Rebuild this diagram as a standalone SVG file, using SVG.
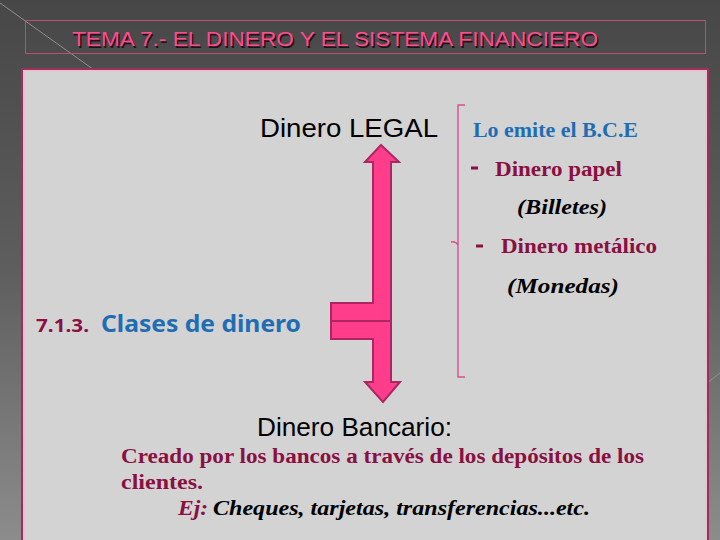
<svg xmlns="http://www.w3.org/2000/svg" width="720" height="540" viewBox="0 0 720 540">
  <defs>
    <linearGradient id="bg" x1="0" y1="0" x2="0" y2="1">
      <stop offset="0" stop-color="#474747"/>
      <stop offset="0.5" stop-color="#5e5e5e"/>
      <stop offset="1" stop-color="#8c8c8c"/>
    </linearGradient>
    <style>
      .title{font-family:"Liberation Sans",Arial,sans-serif;font-size:20px;fill:#ff4c8e}
      .titleshadow{font-family:"Liberation Sans",Arial,sans-serif;font-size:20px;fill:#2a0d18}
      .sans{font-family:"Liberation Sans",Arial,sans-serif;font-size:26.5px;fill:#000}
      .ser{font-family:"Liberation Serif","Times New Roman",serif;font-weight:bold;font-size:20px}
      .blue{fill:#1f6db2}
      .maroon{fill:#8a1042}
      .ital{font-style:italic;fill:#000}
      .head{font-family:"Noto Sans","Open Sans",sans-serif;font-weight:bold}
      .arrow{fill:#ff3d8b;stroke:#ad2563;stroke-width:2;stroke-linejoin:miter}
      .brk{fill:none;stroke:#d8528d;stroke-width:1.4}
    </style>
  </defs>
  <rect x="0" y="0" width="720" height="540" fill="url(#bg)"/>
  <line x1="0" y1="3" x2="97" y2="72" stroke="#8f8f8f" stroke-width="1"/>
  <line x1="707" y1="383" x2="720" y2="373" stroke="#9a9a9a" stroke-width="0.8"/>

  <g id="title">
    <rect x="25.5" y="20.5" width="680" height="33" fill="none" stroke="#c04a78" stroke-width="1"/>
    <text class="titleshadow" x="73.5" y="47.5" textLength="526" lengthAdjust="spacingAndGlyphs">TEMA 7.-  EL DINERO Y EL SISTEMA FINANCIERO</text>
    <text class="title" x="72" y="46" textLength="526" lengthAdjust="spacingAndGlyphs">TEMA 7.-  EL DINERO Y EL SISTEMA FINANCIERO</text>
  </g>

  <g id="panel">
    <rect x="22" y="69" width="686" height="480" fill="#d3d3d3" stroke="#a02e5c" stroke-width="2"/>
    <rect x="24" y="71" width="682" height="476" fill="none" stroke="#f2b8cc" stroke-width="1"/>
  </g>

  <g id="heading">
    <text class="head maroon" x="36" y="332" font-size="17" textLength="53" lengthAdjust="spacingAndGlyphs">7.1.3.</text>
    <text class="head blue" x="101" y="332" font-size="24" textLength="200" lengthAdjust="spacingAndGlyphs">Clases de dinero</text>
  </g>

  <g id="connectors">
    <polygon class="arrow" points="381,145 399,162 391,162 391,321 331,321 331,303 373,303 373,162 365,162"/>
    <polygon class="arrow" points="331,321 391,321 391,382 400,382 383,402 365,382 373,382 373,339 331,339"/>
    <path class="brk" d="M465,105 H458 V377 H465"/>
    <path class="brk" d="M451,242 Q456,241 458,245"/>
  </g>

  <g id="legal">
    <text class="sans" x="260" y="137" textLength="178" lengthAdjust="spacingAndGlyphs">Dinero LEGAL</text>
  </g>

  <g id="legal-detail">
    <text class="ser blue" x="473" y="137" textLength="165" lengthAdjust="spacingAndGlyphs">Lo emite el B.C.E</text>
    <rect x="471" y="166.5" width="7" height="3" fill="#8a1042"/>
    <text class="ser maroon" x="495" y="176" textLength="127" lengthAdjust="spacingAndGlyphs">Dinero papel</text>
    <text class="ser ital" x="517" y="214" textLength="90" lengthAdjust="spacingAndGlyphs">(Billetes)</text>
    <rect x="476" y="244.5" width="7" height="3" fill="#8a1042"/>
    <text class="ser maroon" x="501" y="253" textLength="156" lengthAdjust="spacingAndGlyphs">Dinero metálico</text>
    <text class="ser ital" x="507" y="293" textLength="112" lengthAdjust="spacingAndGlyphs">(Monedas)</text>
  </g>

  <g id="bancario">
    <text class="sans" x="257" y="436" textLength="195" lengthAdjust="spacingAndGlyphs">Dinero Bancario:</text>
    <text class="ser maroon" x="121" y="463" textLength="523" lengthAdjust="spacingAndGlyphs">Creado por los bancos  a través de los depósitos de los</text>
    <text class="ser maroon" x="121" y="489" textLength="82" lengthAdjust="spacingAndGlyphs">clientes.</text>
    <text class="ser maroon" x="178" y="515" font-style="italic" textLength="30" lengthAdjust="spacingAndGlyphs">Ej:</text>
    <text class="ser ital" x="213" y="515" textLength="377" lengthAdjust="spacingAndGlyphs">Cheques, tarjetas, transferencias...etc.</text>
  </g>
</svg>
